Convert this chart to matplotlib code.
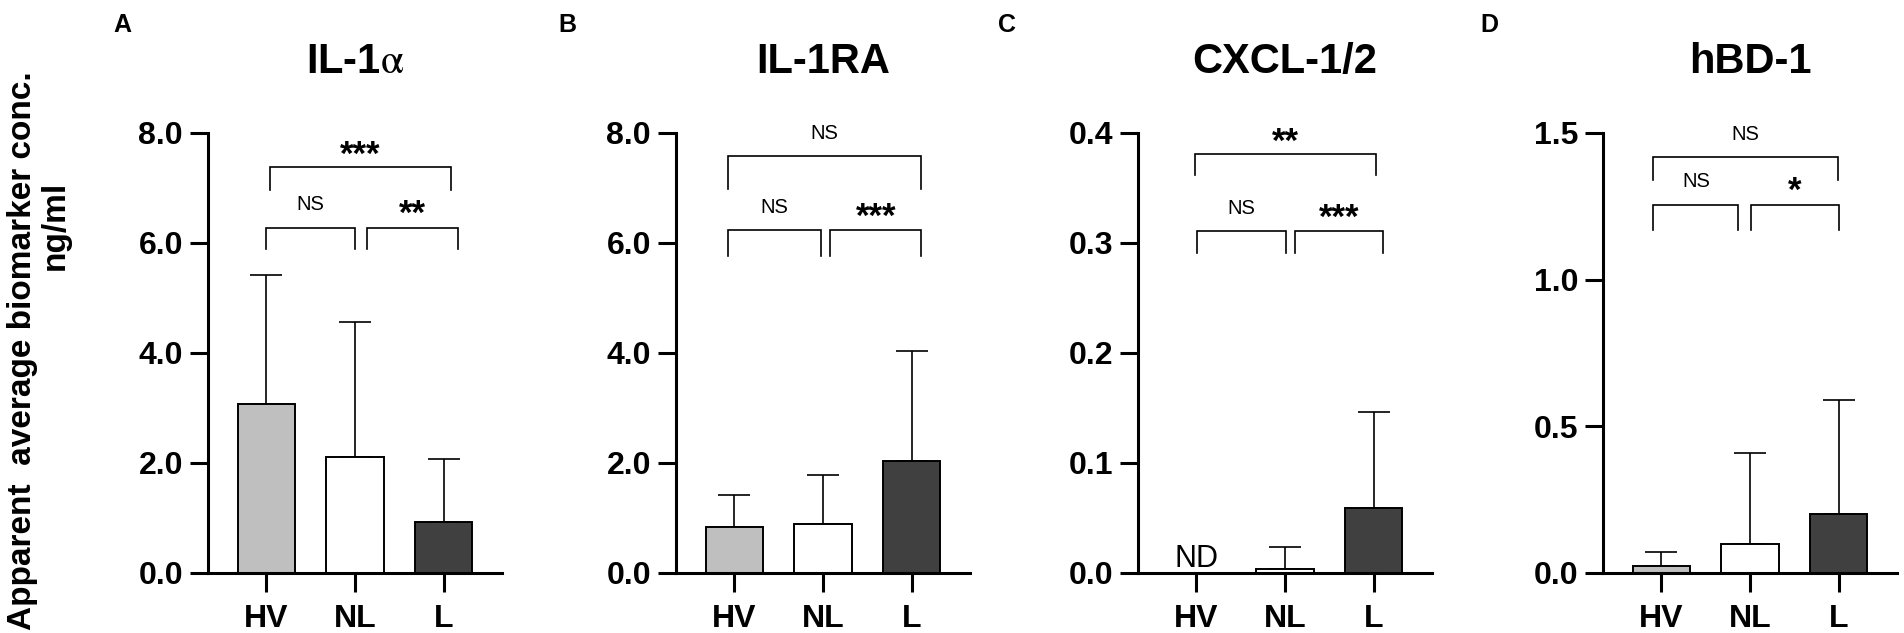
import matplotlib
matplotlib.use("Agg")
import matplotlib.pyplot as plt
import numpy as np

plt.rcParams['font.family'] = ['Liberation Sans', 'DejaVu Sans']
plt.rcParams['mathtext.fontset'] = 'stix'

# ---------------- data ----------------
groups = ["HV", "NL", "L"]
titles = ["IL-1$\\mathrm{\\alpha}$", "IL-1RA", "CXCL-1/2", "hBD-1"]
letters = ["A", "B", "C", "D"]

il1a_mean = [3.08, 2.11, 0.93]
il1a_err = [2.34, 2.45, 1.15]
il1ra_mean = [0.83, 0.89, 2.03]
il1ra_err = [0.58, 0.90, 2.00]
cxcl_mean = [None, 0.004, 0.059]
cxcl_err = [None, 0.020, 0.087]
hbd_mean = [0.025, 0.10, 0.20]
hbd_err = [0.046, 0.31, 0.39]

means = [il1a_mean, il1ra_mean, cxcl_mean, hbd_mean]
errs = [il1a_err, il1ra_err, cxcl_err, hbd_err]

ymax = [8.0, 8.0, 0.4, 1.5]
yticks = [[0, 2, 4, 6, 8], [0, 2, 4, 6, 8], [0, 0.1, 0.2, 0.3, 0.4], [0, 0.5, 1.0, 1.5]]

# significance labels: top (HV-L), left (HV-NL), right (NL-L)
sig_labels = [["***", "NS", "**"],
              ["NS", "NS", "***"],
              ["**", "NS", "***"],
              ["NS", "NS", "*"]]

bar_colors = ["#bfbfbf", "#ffffff", "#404040"]

# bracket geometry: (x1, x2, y, y_drop, label_y) for top, left, right
brackets = [
    [(0.04, 2.08, 7.38, 6.97, 7.80), (0.0, 1.0, 6.28, 5.89, 6.73), (1.14, 2.16, 6.28, 5.89, 6.73)],
    [(-0.075, 2.11, 7.58, 6.98, 8.02), (-0.075, 0.98, 6.24, 5.77, 6.68), (1.08, 2.11, 6.24, 5.77, 6.68)],
    [(-0.02, 2.03, 0.381, 0.362, 0.402), (0.01, 1.01, 0.311, 0.291, 0.333), (1.11, 2.11, 0.311, 0.291, 0.333)],
    [(-0.10, 1.99, 1.419, 1.34, 1.50), (-0.09, 0.87, 1.253, 1.168, 1.34), (1.01, 2.0, 1.253, 1.168, 1.34)],
]

# ---------------- layout ----------------
W, H = 1904, 633
fig = plt.figure(figsize=(W / 100, H / 100), dpi=100)

ax_left_px = [208, 676, 1138, 1603]
ax_w_px = 294
ax_top_px, ax_bot_px = 133, 573
letter_x_px = [122, 567, 1007, 1489]

spine_lw = 2.2
for i in range(4):
    ax = fig.add_axes([ax_left_px[i] / W, 1 - ax_bot_px / H, ax_w_px / W, (ax_bot_px - ax_top_px) / H])
    x = np.arange(len(groups))
    m = means[i]
    e = errs[i]
    for j in range(len(groups)):
        if m[j] is None:
            continue
        ax.bar(x[j], m[j], width=0.65, color=bar_colors[j], edgecolor="black", linewidth=1.4, zorder=2)
        ax.errorbar(x[j], m[j], yerr=[[0], [e[j]]], fmt="none", ecolor="black",
                    elinewidth=1.2, capsize=11.5, capthick=1.2, zorder=1)
    if m[0] is None:
        ax.annotate("ND", xy=(x[0], 0), xytext=(0, 4), textcoords="offset points",
                    ha="center", va="baseline", fontsize=22)

    ax.set_xlim(-0.66, 2.66)
    ax.set_ylim(0, ymax[i])
    ax.set_yticks(yticks[i])
    ax.set_yticklabels([f"{v:.1f}" for v in yticks[i]])
    ax.set_xticks(x)
    ax.set_xticklabels(groups)
    for s in ["top", "right"]:
        ax.spines[s].set_visible(False)
    for s in ["left", "bottom"]:
        ax.spines[s].set_linewidth(spine_lw)
    ax.tick_params(axis="y", length=13, width=spine_lw, pad=5, labelsize=23)
    ax.tick_params(axis="x", length=13.5, width=spine_lw, pad=9, labelsize=23)
    for lab in ax.get_xticklabels() + ax.get_yticklabels():
        lab.set_fontweight("bold")

    # brackets
    for k, (x1, x2, yb, yd, ly) in enumerate(brackets[i]):
        ax.plot([x1, x1, x2, x2], [yd, yb, yb, yd], color="black", lw=1.2, clip_on=False,
                solid_joinstyle="miter")
        lab = sig_labels[i][k]
        xc = (x1 + x2) / 2
        if lab == "NS":
            fs = 14.5
            ax.annotate(lab, xy=(xc, ly), xytext=(0, -0.36 * fs), textcoords="offset points",
                        ha="center", va="baseline", fontsize=fs, annotation_clip=False)
        else:
            fs = 25
            ax.annotate(lab, xy=(xc, ly), xytext=(0, -0.60 * fs), textcoords="offset points",
                        ha="center", va="baseline", fontsize=fs, fontweight="bold",
                        annotation_clip=False)

    # title
    fig.text((ax_left_px[i] + ax_w_px / 2) / W, 1 - 62 / H, titles[i], ha="center", va="center",
             fontsize=30, fontweight="bold")
    # panel letter
    fig.text(letter_x_px[i] / W, 1 - 25 / H, letters[i], ha="center", va="center",
             fontsize=18, fontweight="bold")

# y label
fig.text(23 / W, 1 - 351 / H, "Apparent  average biomarker conc.", rotation=90,
         ha="center", va="center", fontsize=24, fontweight="bold")
fig.text(55 / W, 1 - 225 / H, "ng/ml", rotation=90, ha="center", va="center",
         fontsize=24, fontweight="bold")

fig.savefig("out.png", dpi=100)
